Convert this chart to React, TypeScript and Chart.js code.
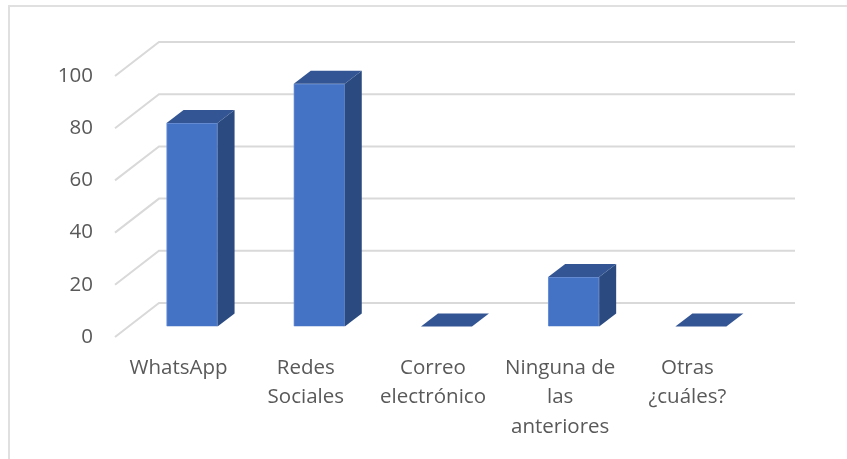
import React, { useEffect, useRef } from "react";
import { Chart, registerables } from "chart.js";

Chart.register(...registerables);

const categories = [
  ["WhatsApp"],
  ["Redes", "Sociales"],
  ["Correo", "electrónico"],
  ["Ninguna de", "las", "anteriores"],
  ["Otras", "¿cuáles?"],
];
const values = [78, 93, 0, 19, 0];
const axisMin = 0;
const axisMax = 100;
const axisStep = 20;

const WALL_DX = 44;
const WALL_DY = 34;
const BAR_OFFSET = 0.306;
const BAR_DX = 17;
const BAR_DY = 13;
const GRID = "#d9d9d9";
const TEXT = "#595959";
const FONT = "'Open Sans', sans-serif";

const threeD = {
  id: "threeD",
  beforeDatasetsDraw(chart: any) {
    const { ctx, chartArea, scales } = chart;
    ctx.save();
    ctx.strokeStyle = GRID;
    ctx.lineWidth = 2;
    for (const t of scales.y.ticks) {
      const y = scales.y.getPixelForValue(t.value);
      ctx.beginPath();
      ctx.moveTo(chartArea.left, y);
      ctx.lineTo(chartArea.left + WALL_DX, y - WALL_DY);
      ctx.lineTo(chartArea.right + WALL_DX, y - WALL_DY);
      ctx.stroke();
    }
    ctx.restore();
    ctx.save();
    ctx.translate(WALL_DX * BAR_OFFSET, -WALL_DY * BAR_OFFSET);
  },
  afterDatasetsDraw(chart: any) {
    const { ctx } = chart;
    const meta = chart.getDatasetMeta(0);
    for (const bar of meta.data) {
      const left = bar.x - bar.width / 2;
      const right = bar.x + bar.width / 2;
      const top = bar.y;
      const base = bar.base;
      if (base - top > 0.5) {
        ctx.fillStyle = "#2a4a80";
        ctx.beginPath();
        ctx.moveTo(right, top);
        ctx.lineTo(right + BAR_DX, top - BAR_DY);
        ctx.lineTo(right + BAR_DX, base - BAR_DY);
        ctx.lineTo(right, base);
        ctx.closePath();
        ctx.fill();
      }
      ctx.fillStyle = "#335593";
      ctx.beginPath();
      ctx.moveTo(left, top);
      ctx.lineTo(left + BAR_DX, top - BAR_DY);
      ctx.lineTo(right + BAR_DX, top - BAR_DY);
      ctx.lineTo(right, top);
      ctx.closePath();
      ctx.fill();
    }
    ctx.restore();
  },
};

export default function App() {
  const ref = useRef<HTMLCanvasElement>(null);
  useEffect(() => {
    const chart = new Chart(ref.current as HTMLCanvasElement, {
      type: "bar",
      data: {
        labels: categories,
        datasets: [
          {
            data: values,
            backgroundColor: "#4472c4",
            borderColor: "#6f93d6",
            borderWidth: 1,
            barThickness: 51,
          },
        ],
      },
      options: {
        responsive: false,
        animation: false,
        layout: { padding: { left: 0, top: 76, right: 96, bottom: 0 } },
        plugins: { legend: { display: false }, tooltip: { enabled: false } },
        scales: {
          x: {
            grid: { display: false, drawTicks: false },
            border: { display: false },
            ticks: {
              color: TEXT,
              font: { family: FONT, size: 20.5, lineHeight: 1.44 },
              maxRotation: 0,
              autoSkip: false,
              padding: 16,
            },
            afterFit(s: any) {
              s.height = 122;
            },
          },
          y: {
            min: axisMin,
            max: axisMax,
            grid: { display: false, drawTicks: false },
            border: { display: false },
            ticks: {
              color: TEXT,
              font: { family: FONT, size: 20.5 },
              stepSize: axisStep,
              padding: 22,
            },
            afterFit(s: any) {
              s.width = 115;
            },
          },
        },
      },
      plugins: [threeD],
    } as any);
    return () => chart.destroy();
  }, []);
  return (
    <div style={{ position: "absolute", left: 0, top: 0, width: 847, height: 459, background: "#fff", overflow: "hidden" }}>
      <canvas ref={ref} width={847} height={459} style={{ display: "block" }} />
      <div style={{ position: "absolute", left: 8, top: 5, width: 839, height: 454, borderLeft: "2px solid #e0e0e0", borderTop: "2px solid #e0e0e0", boxSizing: "border-box" }} />
    </div>
  );
}
